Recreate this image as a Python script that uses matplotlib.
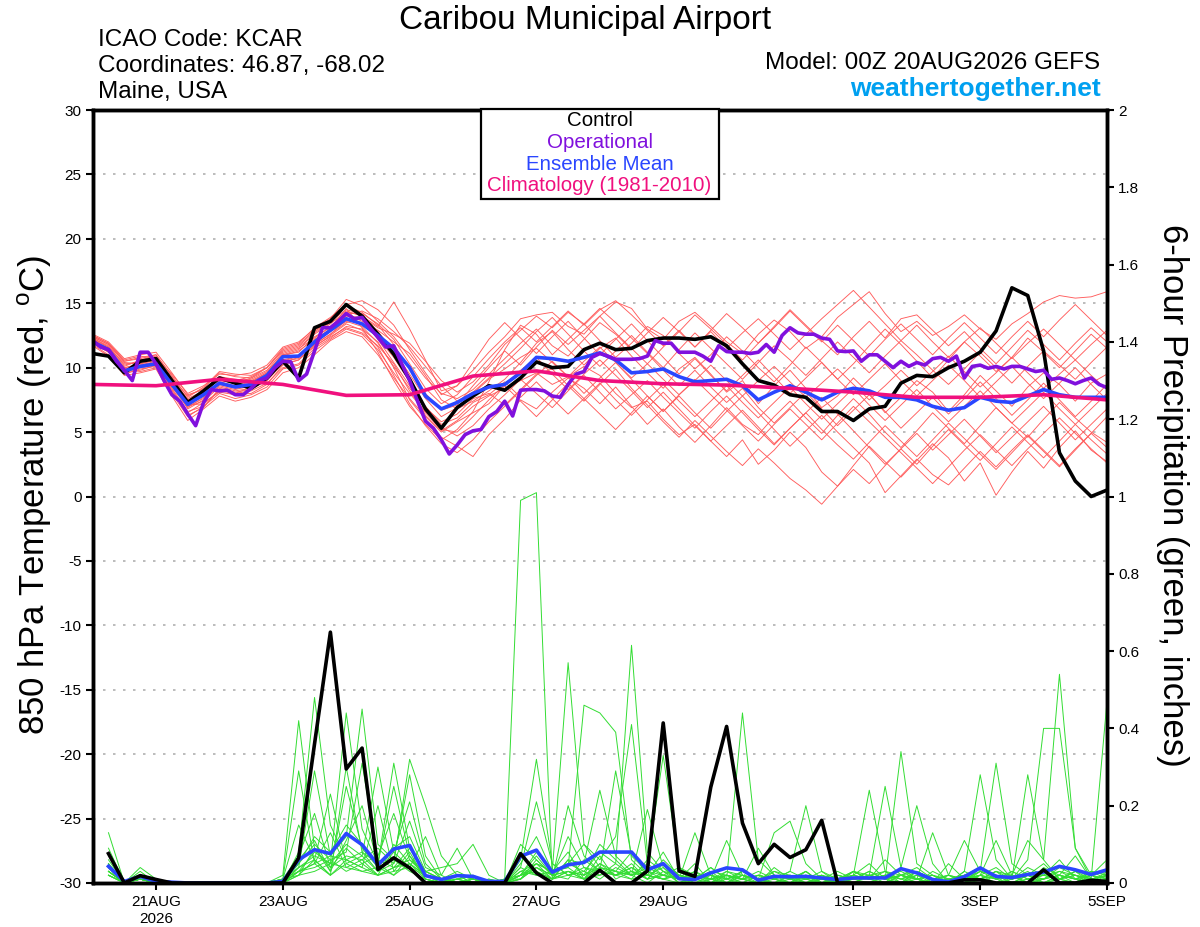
import matplotlib
matplotlib.use('Agg')
import matplotlib.pyplot as plt
from matplotlib.patches import Rectangle
from matplotlib.ticker import FuncFormatter
import numpy as np
import pandas as pd

plt.rcParams['font.family'] = ['Liberation Sans', 'DejaVu Sans']
plt.rcParams['axes.unicode_minus'] = False
plt.rcParams['mathtext.fontset'] = 'custom'
plt.rcParams['mathtext.rm'] = 'Liberation Sans'

# Valid times of the 00Z 20AUG2026 GEFS run
times = pd.date_range('2026-08-20 00:00', '2026-09-05 00:00', freq='6h')
times_3h = pd.date_range('2026-08-20 00:00', '2026-09-05 00:00', freq='3h')
precip_times = times[1:]
clim_times = pd.date_range('2026-08-20', '2026-09-05', freq='D')

tick_dates = ['2026-08-21', '2026-08-23', '2026-08-25', '2026-08-27',
              '2026-08-29', '2026-09-01', '2026-09-03', '2026-09-05']
tick_labels = ['21AUG\n2026', '23AUG', '25AUG', '27AUG', '29AUG', '1SEP', '3SEP', '5SEP']

# 850 hPa temperature (C)
control_temp = [11.1, 10.9, 9.6, 10.5, 10.7, 9.0, 7.3, 8.2, 9.2, 8.8, 8.4, 9.2, 10.5,
                9.2, 13.1, 13.6, 14.9, 14.0, 12.6, 11.05, 9.1, 6.8, 5.3, 6.9, 7.8, 8.6,
                8.25, 9.2, 10.45, 10.0, 10.1, 11.4, 11.9, 11.4, 11.5, 12.1, 12.3, 12.3, 12.2,
                12.4, 11.7, 10.3, 9.0, 8.65, 7.9, 7.7, 6.6, 6.6, 5.9, 6.8, 7.0, 8.8,
                9.4, 9.3, 10.0, 10.5, 11.2, 12.85, 16.2, 15.6, 11.3, 3.4, 1.2, 0.0, 0.5]

oper_temp = [12.1, 11.6, 11.4, 10.5, 9.8, 9.0, 11.2, 11.2, 10.3, 9.0, 7.9, 7.4, 6.4, 5.5, 7.3, 8.3,
             8.2, 8.25, 7.9, 7.9, 8.4, 9.0, 9.2, 10.0, 10.5, 10.45, 9.0, 9.5, 11.3, 13.1, 13.1, 13.6,
             14.2, 13.8, 13.9, 13.1, 12.35, 11.6, 11.7, 10.3, 9.0, 7.4, 5.85, 5.3, 4.4, 3.3, 4.0, 4.8,
             5.1, 5.2, 6.2, 6.6, 7.4, 6.25, 8.25, 8.3, 8.3, 8.2, 7.8, 7.7, 8.7, 9.5, 9.7, 10.8,
             11.1, 10.9, 10.65, 10.65, 10.65, 10.7, 10.9, 12.1, 11.9, 11.9, 11.2, 11.2, 11.2, 10.9, 10.5, 11.7,
             11.25, 11.2, 11.2, 11.1, 11.2, 11.8, 11.2, 12.5, 13.1, 12.7, 12.6, 12.6, 12.3, 12.2, 11.3, 11.25,
             11.3, 10.5, 11.0, 11.0, 10.5, 10.0, 10.5, 10.1, 10.4, 10.2, 10.7, 10.8, 10.5, 10.9, 9.2, 10.1,
             10.2, 9.95, 10.1, 9.9, 10.1, 10.1, 9.9, 9.7, 9.8, 9.1, 9.2, 9.0, 8.75, 9.0, 9.2, 8.7,
             8.45]

mean_temp = [12.0, 11.4, 9.75, 10.1, 10.3, 8.7, 7.15, 7.9, 8.8, 8.5, 8.7, 9.4, 10.85,
             10.9, 12.0, 12.9, 13.8, 13.4, 12.5, 11.5, 10.0, 7.8, 6.8, 7.3, 8.0, 8.5,
             8.7, 9.6, 10.8, 10.7, 10.5, 10.8, 11.15, 10.6, 9.6, 9.7, 9.9, 9.3, 8.9,
             9.0, 9.1, 8.6, 7.5, 8.1, 8.6, 8.1, 7.5, 8.1, 8.4, 8.2, 7.7, 7.7,
             7.5, 7.0, 6.7, 6.9, 7.7, 7.4, 7.3, 7.8, 8.3, 7.9, 7.7, 7.7, 7.7]

clim_temp = [8.7, 8.6, 9.1, 8.7, 7.85, 7.9, 9.35, 9.75, 9.0, 8.75, 8.65, 8.4, 8.1,
             7.7, 7.7, 7.9, 7.5]

member_temp = [
    [12.4, 11.8, 10.4, 10.3, 10.6, 9.2, 7.8, 8.4, 9.6, 9.3, 9.2, 9.8, 11.2,
     11.6, 12.6, 13.4, 14.4, 14.0, 13.2, 15.1, 13.0, 10.6, 8.2, 8.6, 9.8, 11.2,
     12.4, 13.8, 14.1, 14.3, 13.2, 12.6, 14.0, 15.1, 14.6, 13.0, 12.2, 13.6, 14.3,
     13.2, 12.0, 11.1, 12.6, 13.7, 12.8, 11.5, 12.4, 13.9, 14.9, 15.9, 14.2, 12.8,
     13.6, 12.5, 13.2, 14.1, 13.0, 12.2, 13.4, 14.2, 15.1, 15.6, 15.4, 15.5, 15.9],
    [12.0, 11.2, 9.9, 9.7, 10.0, 8.3, 6.5, 7.3, 8.1, 7.9, 8.0, 8.7, 10.2,
     10.6, 11.8, 12.6, 13.5, 13.8, 12.2, 10.4, 8.6, 6.3, 5.1, 5.9, 7.0, 7.8,
     8.4, 9.0, 9.6, 8.7, 9.3, 10.1, 9.4, 8.0, 6.9, 7.4, 6.0, 4.8, 5.6,
     4.3, 3.1, 4.4, 2.5, 3.6, 5.0, 3.8, 1.9, 0.8, 2.4, 3.9, 2.7, 1.5,
     2.8, 4.1, 3.0, 1.2, 2.6, 0.1, 1.9, 3.5, 2.2, 3.8, 5.1, 3.6, 2.7],
    [12.2, 11.6, 10.1, 10.6, 10.9, 9.0, 7.0, 7.6, 9.0, 8.8, 8.9, 9.6, 11.0,
     11.2, 12.4, 13.1, 14.2, 13.6, 12.9, 12.0, 11.1, 9.4, 7.5, 6.8, 7.4, 8.2,
     9.1, 10.4, 11.9, 12.8, 11.4, 10.2, 11.5, 12.3, 10.9, 9.6, 8.4, 9.9, 10.8,
     9.5, 8.1, 9.0, 7.2, 8.6, 9.8, 8.4, 6.9, 7.8, 9.2, 8.0, 6.5, 7.7,
     9.0, 8.1, 6.6, 7.9, 9.4, 8.2, 7.0, 8.5, 9.6, 8.7, 7.4, 8.8, 9.5],
    [11.8, 11.0, 9.5, 9.9, 10.1, 8.0, 6.2, 7.0, 8.3, 8.0, 8.5, 9.0, 10.4,
     10.8, 12.1, 13.0, 14.6, 13.1, 11.2, 9.0, 7.0, 5.6, 4.4, 5.2, 6.6, 8.9,
     11.4, 13.3, 12.6, 11.0, 12.2, 13.4, 12.1, 10.8, 11.9, 13.2, 12.5, 11.1, 9.9,
     11.0, 12.4, 11.3, 10.0, 8.9, 10.2, 11.6, 10.4, 9.1, 10.3, 11.7, 13.0, 11.8,
     10.5, 9.2, 10.6, 12.0, 10.9, 9.7, 10.8, 12.3, 11.2, 10.0, 11.3, 12.6, 11.5],
    [12.1, 11.5, 9.8, 10.0, 10.4, 8.6, 7.1, 7.2, 8.2, 8.0, 8.2, 8.8, 10.0,
     10.3, 11.5, 12.3, 13.2, 13.0, 12.0, 10.0, 7.5, 6.0, 4.6, 3.9, 3.1, 4.8,
     6.0, 7.5, 6.8, 8.1, 9.2, 8.4, 7.2, 8.5, 7.0, 5.6, 6.8, 5.4, 4.2,
     5.5, 6.9, 5.6, 4.8, 6.2, 7.4, 6.1, 4.9, 6.3, 7.6, 6.4, 5.0, 3.8,
     5.1, 6.5, 5.3, 4.1, 5.5, 6.9, 5.7, 4.6, 6.0, 7.3, 6.1, 5.0, 4.2],
    [12.5, 11.9, 10.6, 10.9, 10.7, 9.5, 8.0, 8.6, 9.5, 9.4, 9.6, 10.2, 11.6,
     12.0, 13.0, 13.8, 15.3, 14.8, 13.6, 12.4, 10.8, 9.2, 8.0, 7.6, 8.3, 9.5,
     10.7, 11.9, 13.0, 11.7, 10.9, 12.2, 13.5, 12.6, 11.4, 12.7, 13.9, 12.8, 11.6,
     12.9, 14.2, 13.1, 11.9, 13.2, 14.5, 13.3, 12.1, 11.0, 12.4, 13.6, 12.3, 13.8,
     14.1, 12.9, 11.7, 12.8, 11.5, 10.3, 11.6, 12.9, 11.8, 10.6, 11.9, 13.1, 12.0],
    [11.9, 11.3, 10.0, 10.2, 10.5, 8.8, 6.8, 7.5, 8.6, 8.3, 8.6, 9.3, 10.6,
     10.9, 11.9, 12.8, 13.6, 13.2, 11.9, 10.1, 8.4, 6.9, 5.8, 6.4, 7.6, 8.0,
     7.1, 8.3, 9.5, 9.9, 8.6, 7.4, 8.7, 9.9, 8.4, 7.1, 5.8, 4.6, 5.9,
     4.7, 3.5, 2.4, 3.7, 2.6, 1.4, 0.5, -0.6, 0.8, 2.1, 1.0, 2.4, 3.7,
     2.5, 3.9, 5.2, 4.0, 2.8, 4.1, 5.4, 4.2, 3.0, 4.3, 5.6, 4.4, 3.3],
    [12.3, 11.7, 10.2, 10.5, 10.8, 9.1, 7.4, 8.0, 9.2, 8.9, 9.1, 9.7, 11.0,
     11.4, 12.7, 13.5, 14.1, 14.4, 13.8, 12.8, 11.6, 10.1, 8.6, 7.4, 8.1, 9.2,
     10.3, 11.5, 12.8, 13.9, 12.6, 11.3, 10.1, 11.3, 12.5, 11.2, 10.0, 11.4, 12.7,
     11.5, 10.3, 9.1, 10.4, 11.7, 10.6, 9.4, 10.7, 12.0, 10.8, 9.6, 10.9, 12.1,
     11.0, 9.8, 8.7, 9.9, 11.2, 10.0, 8.8, 10.1, 11.3, 10.2, 9.1, 10.4, 11.6],
    [12.0, 11.3, 9.6, 9.8, 10.2, 8.4, 6.6, 7.0, 8.0, 7.6, 7.9, 8.5, 9.9,
     10.2, 11.3, 12.2, 13.0, 12.6, 11.4, 9.6, 8.0, 6.6, 5.4, 4.7, 5.5, 6.8,
     7.9, 9.1, 8.0, 6.9, 8.2, 9.4, 8.1, 6.8, 7.9, 9.0, 7.7, 6.5, 5.3,
     6.6, 7.8, 6.5, 5.2, 4.0, 5.3, 6.5, 5.2, 4.0, 2.9, 4.2, 5.5, 4.3,
     3.1, 4.4, 5.7, 4.5, 3.3, 2.1, 3.4, 4.7, 3.5, 2.3, 3.6, 4.9, 6.2],
    [12.2, 11.5, 10.0, 10.3, 10.6, 8.9, 7.3, 7.8, 8.9, 8.6, 8.9, 9.5, 10.9,
     11.3, 12.2, 13.0, 14.0, 13.9, 13.1, 12.6, 11.9, 10.5, 9.0, 8.1, 8.9, 10.2,
     11.8, 12.9, 14.0, 13.1, 14.3, 13.4, 14.6, 13.5, 12.3, 11.1, 9.8, 8.6, 9.8,
     8.5, 7.3, 8.4, 6.9, 5.7, 6.9, 8.1, 6.8, 5.5, 6.7, 7.9, 6.6, 5.3,
     6.5, 7.7, 6.4, 7.6, 8.9, 7.6, 6.3, 7.5, 8.8, 7.5, 6.2, 7.4, 8.7],
    [12.6, 12.0, 10.7, 11.0, 11.2, 9.6, 7.9, 8.3, 9.3, 9.0, 9.3, 10.0, 11.4,
     11.8, 12.9, 13.6, 14.8, 14.3, 13.3, 11.8, 9.9, 8.0, 6.7, 7.1, 8.6, 10.0,
     11.3, 10.2, 11.6, 12.9, 11.8, 12.9, 14.0, 12.7, 11.5, 10.3, 11.6, 12.8, 14.1,
     13.0, 11.8, 10.6, 11.9, 13.1, 14.4, 13.2, 12.0, 13.3, 12.1, 10.9, 12.2, 13.4,
     12.2, 11.0, 12.3, 13.5, 12.3, 11.1, 12.4, 13.6, 12.4, 13.7, 14.9, 13.7, 12.5],
    [11.7, 10.9, 9.4, 9.6, 9.9, 7.8, 5.9, 6.8, 7.8, 7.4, 7.7, 8.3, 9.6,
     10.0, 11.0, 12.1, 12.8, 12.4, 11.0, 9.2, 7.6, 6.2, 5.0, 5.8, 6.5, 7.2,
     8.6, 7.4, 6.2, 7.5, 8.8, 7.6, 6.4, 5.2, 6.5, 7.8, 6.6, 7.9, 9.1,
     7.9, 6.7, 5.5, 4.3, 5.6, 6.8, 5.6, 4.4, 5.7, 7.0, 5.8, 4.6, 3.4,
     2.2, 1.0, 2.3, 3.6, 4.8, 3.6, 2.4, 3.7, 4.9, 6.1, 4.9, 3.7, 2.6],
    [12.3, 11.6, 10.3, 10.4, 10.7, 8.9, 7.6, 8.2, 9.3, 9.1, 9.0, 9.6, 11.1,
     11.5, 12.3, 13.2, 14.3, 14.1, 12.8, 11.3, 9.5, 7.6, 6.2, 6.9, 8.0, 9.1,
     9.9, 10.8, 11.5, 10.4, 9.3, 10.5, 11.6, 10.4, 9.2, 10.3, 9.1, 7.9, 9.0,
     10.2, 9.0, 7.8, 9.0, 10.1, 8.9, 7.7, 8.8, 9.9, 8.7, 7.5, 8.6, 9.8,
     8.6, 9.7, 10.9, 9.7, 8.5, 9.6, 10.8, 9.6, 8.4, 9.5, 10.6, 9.4, 8.3],
    [12.0, 11.4, 9.8, 10.0, 10.2, 8.2, 6.3, 6.9, 8.4, 8.1, 8.3, 9.1, 10.5,
     10.7, 11.6, 12.5, 13.4, 12.9, 11.6, 9.4, 7.2, 5.5, 4.1, 3.4, 4.4, 5.8,
     7.0, 8.2, 9.4, 10.5, 9.3, 8.0, 9.2, 10.4, 9.1, 7.8, 6.6, 7.8, 6.5,
     5.3, 6.6, 7.8, 6.5, 5.2, 3.9, 5.1, 6.3, 5.0, 3.8, 2.6, 0.3, 1.6,
     2.9, 1.7, 0.9, 2.2, 3.5, 2.3, 3.6, 4.8, 3.6, 2.4, 3.7, 4.9, 3.8],
    [12.4, 11.8, 10.5, 10.8, 11.0, 9.4, 7.7, 8.5, 9.7, 9.5, 9.4, 10.0, 11.5,
     11.9, 13.1, 13.9, 14.9, 15.2, 14.5, 13.3, 11.4, 9.6, 7.9, 8.6, 10.4, 12.2,
     13.5, 12.3, 11.1, 12.4, 13.6, 12.3, 11.0, 12.2, 13.4, 12.1, 10.8, 9.5, 10.7,
     9.4, 8.2, 9.4, 10.6, 9.3, 8.0, 9.2, 10.4, 9.1, 7.9, 9.1, 10.3, 9.0,
     7.8, 9.0, 10.2, 9.0, 7.7, 8.9, 10.1, 8.8, 7.6, 8.8, 10.0, 8.7, 7.5],
    [11.9, 11.2, 9.7, 10.1, 10.3, 8.5, 6.9, 7.7, 8.7, 8.4, 8.5, 9.2, 10.5,
     10.9, 11.8, 12.6, 13.7, 13.4, 12.3, 10.8, 8.9, 7.0, 5.6, 6.1, 7.3, 7.9,
     8.9, 7.7, 8.9, 7.6, 6.4, 7.6, 8.8, 7.5, 6.3, 7.5, 8.7, 7.4, 6.2,
     7.4, 8.6, 7.3, 6.1, 7.3, 8.5, 7.2, 6.0, 7.2, 8.4, 7.1, 5.9, 7.1,
     8.3, 7.0, 5.8, 7.0, 8.2, 6.9, 5.7, 6.9, 8.1, 6.8, 5.6, 6.8, 8.0],
    [12.5, 11.9, 10.5, 10.7, 11.0, 9.3, 7.5, 8.1, 9.1, 8.8, 9.2, 10.0, 11.3,
     11.7, 12.8, 13.6, 14.5, 14.2, 13.4, 12.2, 10.3, 8.4, 7.2, 7.9, 9.3, 10.7,
     12.0, 13.1, 12.0, 13.2, 14.4, 13.3, 14.5, 15.2, 14.1, 12.9, 11.7, 12.9, 11.6,
     12.8, 11.5, 12.7, 13.8, 12.6, 11.4, 12.6, 13.8, 14.9, 16.0, 14.7, 13.4, 12.1,
     13.3, 12.0, 10.8, 12.0, 13.1, 11.9, 10.7, 11.9, 13.0, 11.8, 10.6, 11.8, 12.9],
    [12.1, 11.4, 9.9, 10.2, 10.4, 8.7, 7.0, 7.4, 8.5, 8.2, 8.4, 9.0, 10.3,
     10.6, 11.7, 12.4, 13.1, 12.7, 11.7, 10.3, 8.2, 6.5, 5.2, 5.0, 6.2, 7.5,
     8.7, 9.8, 10.8, 9.5, 8.3, 9.5, 10.6, 9.4, 8.2, 6.9, 8.1, 6.8, 5.5,
     4.3, 5.5, 6.7, 5.4, 4.1, 5.3, 6.5, 7.7, 6.4, 5.1, 3.8, 2.5, 3.7,
     4.9, 3.6, 4.8, 6.0, 4.7, 3.4, 4.6, 5.8, 7.0, 5.7, 4.4, 5.6, 6.8],
]

# 6-hour precipitation (inches), valid 06Z 20AUG onward
control_precip = [0.076, 0, 0.019, 0.009, 0, 0, 0, 0, 0, 0, 0, 0, 0.065, 0.36, 0.649, 0.295,
                  0.349, 0.035, 0.065, 0.039, 0, 0, 0, 0, 0, 0, 0.076, 0.026, 0, 0, 0, 0.033,
                  0, 0, 0.031, 0.414, 0.031, 0.017, 0.248, 0.405, 0.155, 0.05, 0.10, 0.066, 0.086, 0.162, 0, 0,
                  0, 0, 0, 0, 0, 0, 0.008, 0.008, 0, 0, 0, 0.034, 0, 0, 0.007, 0.004]

mean_precip = [0.043, 0.004, 0.017, 0.004, 0.002, 0, 0, 0, 0, 0, 0, 0.004, 0.06, 0.086, 0.076, 0.128,
               0.099, 0.047, 0.088, 0.097, 0.019, 0.009, 0.019, 0.017, 0.004, 0.004, 0.069, 0.085, 0.028, 0.047, 0.053, 0.08,
               0.08, 0.08, 0.034, 0.05, 0.011, 0.009, 0.026, 0.039, 0.034, 0.007, 0.017, 0.016, 0.017, 0.013, 0.009, 0.013,
               0.013, 0.013, 0.037, 0.026, 0.009, 0.003, 0.016, 0.039, 0.017, 0.014, 0.022, 0.028, 0.043, 0.034, 0.022, 0.034]

member_precip = [
    [0.03, 0, 0.01, 0, 0, 0, 0, 0, 0, 0, 0, 0.01, 0.05, 0.12, 0.08, 0.15,
     0.10, 0.04, 0.09, 0.12, 0.03, 0.01, 0.02, 0, 0, 0.01, 0.99, 1.01, 0.01, 0.06, 0.02, 0.05,
     0.03, 0.08, 0.02, 0.01, 0, 0.02, 0.01, 0, 0.03, 0.01, 0, 0.02, 0, 0.01, 0, 0.02,
     0.05, 0.01, 0, 0.03, 0.01, 0, 0, 0.04, 0.01, 0, 0.02, 0.05, 0.01, 0, 0.03, 0.01],
    [0.13, 0, 0.04, 0.01, 0, 0, 0, 0, 0, 0, 0, 0.02, 0.42, 0.09, 0.03, 0.11,
     0.20, 0.05, 0.02, 0.07, 0.01, 0, 0.01, 0.02, 0, 0, 0.05, 0.12, 0.03, 0.08, 0.01, 0.04,
     0.02, 0.01, 0.06, 0.03, 0, 0.01, 0.04, 0.01, 0, 0.02, 0.01, 0, 0.03, 0, 0.01, 0,
     0.02, 0, 0.04, 0.20, 0.05, 0, 0.01, 0.02, 0, 0.01, 0.03, 0, 0.02, 0.01, 0, 0.02],
    [0.09, 0, 0.02, 0, 0, 0, 0, 0, 0, 0, 0, 0.01, 0.29, 0.05, 0.13, 0.04,
     0.06, 0.02, 0.10, 0.05, 0.02, 0, 0.01, 0, 0.01, 0, 0.10, 0.06, 0.02, 0.12, 0.04, 0.02,
     0.05, 0.02, 0, 0.03, 0.01, 0.05, 0, 0.02, 0.01, 0, 0.04, 0.01, 0, 0.02, 0, 0.03,
     0.01, 0, 0.02, 0.01, 0, 0.05, 0.01, 0.02, 0.04, 0.01, 0.28, 0.06, 0.01, 0.03, 0.02, 0.06],
    [0.06, 0, 0.01, 0, 0, 0, 0, 0, 0, 0, 0, 0, 0.08, 0.48, 0.15, 0.06,
     0.04, 0.20, 0.03, 0.08, 0.01, 0, 0, 0.01, 0, 0, 0.03, 0.05, 0.01, 0.20, 0.07, 0.03,
     0.02, 0.04, 0.01, 0.05, 0.02, 0, 0.01, 0, 0.02, 0.01, 0, 0.01, 0.03, 0, 0.02, 0.01,
     0, 0.02, 0.01, 0.03, 0, 0.01, 0, 0.03, 0.01, 0.02, 0, 0.04, 0.02, 0.07, 0.01, 0.47],
    [0.04, 0, 0.02, 0, 0, 0, 0, 0, 0, 0, 0, 0.01, 0.15, 0.06, 0.02, 0.30,
     0.08, 0.03, 0.05, 0.16, 0.04, 0.02, 0.09, 0.01, 0, 0, 0.04, 0.02, 0.01, 0.03, 0.01, 0.07,
     0.01, 0.03, 0.02, 0.08, 0.01, 0.13, 0.02, 0, 0.01, 0.03, 0.01, 0, 0.02, 0.01, 0, 0.01,
     0.02, 0.03, 0, 0.01, 0.02, 0, 0.03, 0.28, 0.06, 0.01, 0.02, 0, 0.01, 0.03, 0, 0.01],
    [0.03, 0, 0.01, 0, 0, 0, 0, 0, 0, 0, 0, 0, 0.04, 0.29, 0.07, 0.12,
     0.45, 0.10, 0.06, 0.03, 0.01, 0, 0.02, 0.01, 0, 0.01, 0.02, 0.08, 0.03, 0.05, 0.10, 0.06,
     0.12, 0.41, 0.05, 0.02, 0.01, 0.03, 0, 0.02, 0.01, 0, 0.03, 0.01, 0.02, 0, 0.01, 0.03,
     0.01, 0.06, 0.02, 0, 0.01, 0.02, 0, 0.01, 0.03, 0, 0.02, 0.01, 0.04, 0.02, 0.01, 0],
    [0.05, 0, 0.01, 0, 0, 0, 0, 0, 0, 0, 0, 0.01, 0.07, 0.18, 0.04, 0.09,
     0.05, 0.07, 0.18, 0.06, 0.02, 0.01, 0, 0.01, 0, 0, 0.06, 0.32, 0.05, 0.02, 0.03, 0.01,
     0.04, 0.02, 0.19, 0.04, 0, 0.02, 0.01, 0.11, 0.02, 0.01, 0, 0.02, 0.01, 0.03, 0, 0.01,
     0.03, 0.01, 0.02, 0.04, 0.01, 0, 0.01, 0.02, 0.11, 0.02, 0, 0.01, 0.02, 0, 0.03, 0.02],
    [0.02, 0, 0.03, 0, 0, 0, 0, 0, 0, 0, 0, 0, 0.02, 0.06, 0.23, 0.05,
     0.03, 0.02, 0.04, 0.09, 0.03, 0.01, 0, 0, 0.01, 0, 0.01, 0.04, 0.02, 0.01, 0.06, 0.03,
     0.02, 0.05, 0.01, 0.06, 0.02, 0.01, 0.04, 0.01, 0.44, 0.06, 0.02, 0.01, 0, 0.02, 0, 0.01,
     0.01, 0.02, 0, 0.03, 0.01, 0, 0.02, 0.01, 0, 0.03, 0.01, 0.02, 0.06, 0.01, 0.02, 0],
    [0.04, 0, 0.01, 0, 0, 0, 0, 0, 0, 0, 0, 0.01, 0.03, 0.08, 0.05, 0.44,
     0.14, 0.05, 0.25, 0.07, 0.02, 0.01, 0.01, 0.02, 0, 0, 0.02, 0.04, 0.01, 0.03, 0.02, 0.10,
     0.06, 0.02, 0.03, 0.01, 0.02, 0.01, 0, 0.03, 0.02, 0.01, 0.13, 0.16, 0.05, 0.01, 0, 0.02,
     0.01, 0, 0.02, 0.01, 0, 0.02, 0.01, 0.03, 0.02, 0, 0.01, 0.02, 0.01, 0.03, 0.01, 0.02],
    [0.03, 0, 0.02, 0, 0, 0, 0, 0, 0, 0, 0, 0, 0.06, 0.11, 0.03, 0.25,
     0.09, 0.04, 0.06, 0.28, 0.07, 0.01, 0.03, 0.01, 0, 0, 0.03, 0.02, 0.03, 0.04, 0.01, 0.02,
     0.03, 0.01, 0.02, 0.01, 0.03, 0.02, 0.01, 0.02, 0, 0.02, 0.01, 0.03, 0.20, 0.03, 0.01, 0.02,
     0.24, 0.03, 0.01, 0.02, 0, 0.01, 0.02, 0.01, 0.03, 0.01, 0.02, 0, 0.01, 0.02, 0, 0.01],
    [0.02, 0, 0.01, 0, 0, 0, 0, 0, 0, 0, 0, 0, 0.05, 0.10, 0.06, 0.08,
     0.31, 0.06, 0.04, 0.05, 0.02, 0, 0.01, 0, 0, 0.01, 0.01, 0.05, 0.03, 0.04, 0.46, 0.44,
     0.39, 0.06, 0.02, 0.04, 0.01, 0, 0.02, 0.01, 0.02, 0, 0.01, 0.02, 0.01, 0, 0.02, 0.01,
     0.02, 0.01, 0, 0.02, 0.01, 0, 0.03, 0.01, 0.02, 0.01, 0.04, 0.02, 0.01, 0, 0.02, 0.01],
    [0.04, 0, 0.02, 0, 0, 0, 0, 0, 0, 0, 0, 0.01, 0.04, 0.07, 0.05, 0.10,
     0.07, 0.30, 0.08, 0.04, 0.12, 0.02, 0, 0.01, 0, 0, 0.02, 0.07, 0.02, 0.05, 0.03, 0.08,
     0.05, 0.615, 0.08, 0.03, 0.02, 0.01, 0.03, 0.02, 0.01, 0.09, 0.02, 0.01, 0.03, 0, 0.01, 0.02,
     0.01, 0.02, 0.01, 0, 0.03, 0.01, 0, 0.02, 0.01, 0.02, 0, 0.01, 0.02, 0.01, 0, 0.03],
    [0.03, 0, 0.01, 0, 0, 0, 0, 0, 0, 0, 0, 0, 0.03, 0.05, 0.07, 0.06,
     0.08, 0.05, 0.31, 0.09, 0.03, 0.01, 0.02, 0, 0, 0, 0.02, 0.03, 0.01, 0.06, 0.05, 0.24,
     0.07, 0.03, 0.01, 0.02, 0.04, 0.01, 0.02, 0.01, 0.03, 0.01, 0.02, 0, 0.01, 0.02, 0.01, 0,
     0.02, 0.25, 0.04, 0.01, 0.02, 0, 0.01, 0.03, 0.02, 0, 0.01, 0.02, 0.03, 0.01, 0.02, 0.01],
    [0.05, 0, 0.02, 0, 0, 0, 0, 0, 0, 0, 0, 0.01, 0.02, 0.09, 0.04, 0.07,
     0.06, 0.09, 0.05, 0.32, 0.20, 0.07, 0.02, 0.01, 0, 0, 0.01, 0.06, 0.02, 0.03, 0.01, 0.05,
     0.02, 0.04, 0.02, 0.01, 0.02, 0.01, 0.03, 0, 0.02, 0.01, 0.03, 0.02, 0, 0.01, 0.02, 0.01,
     0.03, 0.01, 0.34, 0.05, 0.02, 0.01, 0, 0.02, 0.01, 0.03, 0.01, 0, 0.02, 0.01, 0.03, 0.02],
    [0.02, 0, 0.01, 0, 0, 0, 0, 0, 0, 0, 0, 0, 0.04, 0.06, 0.02, 0.05,
     0.07, 0.03, 0.08, 0.21, 0.05, 0.01, 0, 0.01, 0, 0, 0.01, 0.04, 0.02, 0.03, 0.02, 0.04,
     0.03, 0.02, 0.05, 0.33, 0.04, 0.02, 0.01, 0.02, 0.01, 0.02, 0.01, 0.03, 0.01, 0, 0.01, 0.02,
     0.01, 0.03, 0.02, 0.01, 0.13, 0.02, 0.01, 0, 0.02, 0.01, 0.02, 0.03, 0.01, 0.02, 0.01, 0],
    [0.03, 0, 0.01, 0, 0, 0, 0, 0, 0, 0, 0, 0, 0.03, 0.04, 0.06, 0.03,
     0.05, 0.02, 0.04, 0.06, 0.03, 0.04, 0.05, 0.10, 0.02, 0, 0.02, 0.03, 0.01, 0.02, 0.04, 0.03,
     0.29, 0.07, 0.03, 0.02, 0.01, 0.02, 0, 0.01, 0.03, 0.01, 0.02, 0.01, 0.02, 0, 0.01, 0.03,
     0.02, 0.01, 0.02, 0.03, 0.01, 0.02, 0.11, 0.03, 0.31, 0.05, 0.02, 0.01, 0.03, 0.02, 0.01, 0.02],
    [0.02, 0, 0.01, 0, 0, 0, 0, 0, 0, 0, 0, 0, 0.02, 0.03, 0.05, 0.04,
     0.03, 0.04, 0.02, 0.05, 0.01, 0, 0.01, 0, 0, 0, 0.04, 0.21, 0.05, 0.02, 0.01, 0.03,
     0.02, 0.03, 0.01, 0.02, 0.01, 0.03, 0.01, 0.02, 0.01, 0, 0.02, 0.01, 0.01, 0.02, 0, 0.03,
     0.01, 0.02, 0.03, 0.01, 0.02, 0, 0.02, 0.04, 0.02, 0.01, 0.06, 0.40, 0.40, 0.09, 0.02, 0.03],
    [0.04, 0, 0.02, 0, 0, 0, 0, 0, 0, 0, 0, 0, 0.03, 0.05, 0.02, 0.06,
     0.04, 0.02, 0.03, 0.04, 0.02, 0.01, 0, 0.01, 0, 0, 0.02, 0.05, 0.03, 0.57, 0.10, 0.04,
     0.03, 0.02, 0.04, 0.02, 0.01, 0.02, 0.01, 0.03, 0.01, 0.02, 0.01, 0, 0.02, 0.01, 0.03, 0.01,
     0.02, 0.01, 0.02, 0.01, 0, 0.01, 0.02, 0.01, 0.03, 0.02, 0.11, 0.06, 0.54, 0.09, 0.01, 0.02],
]

legend_entries = [('Control', 'black'),
                  ('Operational', '#8010dd'),
                  ('Ensemble Mean', '#2a46ff'),
                  ('Climatology (1981-2010)', '#f0107e')]


def draw_chart():
    fig = plt.figure(figsize=(12, 9.27), dpi=100)
    ax = fig.add_axes([0.0772, 0.0475, 0.8453, 0.8338])
    ax2 = ax.twinx()

    # temperature panel
    for member in member_temp:
        ax.plot(times, member, color='#ff5c5c', lw=0.65)
    ax.plot(times, control_temp, color='black', lw=2.6)
    ax.plot(times, mean_temp, color='#2a46ff', lw=2.6)
    ax.plot(times_3h, oper_temp, color='#8010dd', lw=2.6)
    ax.plot(clim_times, clim_temp, color='#f0107e', lw=2.6)

    # precipitation panel
    for member in member_precip:
        ax2.plot(precip_times, member, color='#33dd33', lw=0.7)
    ax2.plot(precip_times, mean_precip, color='#2a46ff', lw=2.6)
    ax2.plot(precip_times, control_precip, color='black', lw=2.6)

    ax.set_xlim(times[0], times[-1])
    ax.set_ylim(-30, 30)
    ax.set_yticks(np.arange(-30, 31, 5))
    ax.yaxis.grid(True, linestyle=(0, (1.5, 4.5)), color='#b0b0b0', lw=1.2)
    ax.set_axisbelow(True)
    ax.set_xticks(pd.to_datetime(tick_dates))
    ax.set_xticklabels(tick_labels)

    ax2.set_ylim(0, 2)
    ax2.set_yticks(np.arange(0, 2.01, 0.2))
    ax2.yaxis.set_major_formatter(FuncFormatter(lambda v, p: f'{v:g}'))

    for a in (ax, ax2):
        for s in a.spines.values():
            s.set_linewidth(2.5)
    ax.tick_params(axis='y', direction='out', length=5, width=1.5, labelsize=11, pad=3)
    ax.tick_params(axis='x', direction='out', length=5, width=1.5, labelsize=11, pad=4)
    ax2.tick_params(axis='y', direction='out', length=5, width=1.5, labelsize=11, pad=3)

    # axis titles
    fig.text(0.029, 0.466, '850 hPa Temperature (red, $^{\\mathrm{o}}$C)',
             rotation=90, fontsize=25, ha='center', va='center')
    fig.text(0.977, 0.466, '6-hour Precipitation (green, inches)',
             rotation=270, fontsize=25, ha='center', va='center')

    # header
    fig.text(0.4875, 0.978, 'Caribou Municipal Airport', fontsize=24, ha='center', va='center')
    fig.text(0.0817, 0.9568, 'ICAO Code: KCAR', fontsize=17.5, ha='left', va='center')
    fig.text(0.0817, 0.9288, 'Coordinates: 46.87, -68.02', fontsize=17.5, ha='left', va='center')
    fig.text(0.0817, 0.9008, 'Maine, USA', fontsize=17.5, ha='left', va='center')
    fig.text(0.9167, 0.932, 'Model: 00Z 20AUG2026 GEFS', fontsize=17.5, ha='right', va='center')
    fig.text(0.9175, 0.904, 'weathertogether.net', fontsize=19, fontweight='bold',
             color='#00a0f0', ha='right', va='center')

    # legend box
    box = Rectangle((0.4006, 0.7853), 0.1988, 0.0971, transform=fig.transFigure,
                    facecolor='white', edgecolor='black', lw=1.6, zorder=5)
    fig.add_artist(box)
    for k, (label, color) in enumerate(legend_entries):
        fig.text(0.4996, 0.8698 - k * 0.0234, label, color=color, fontsize=14.8,
                 ha='center', va='center', zorder=6)

    fig.savefig('out.png', dpi=100)
    plt.close(fig)


if __name__ == "__main__":
    draw_chart()
